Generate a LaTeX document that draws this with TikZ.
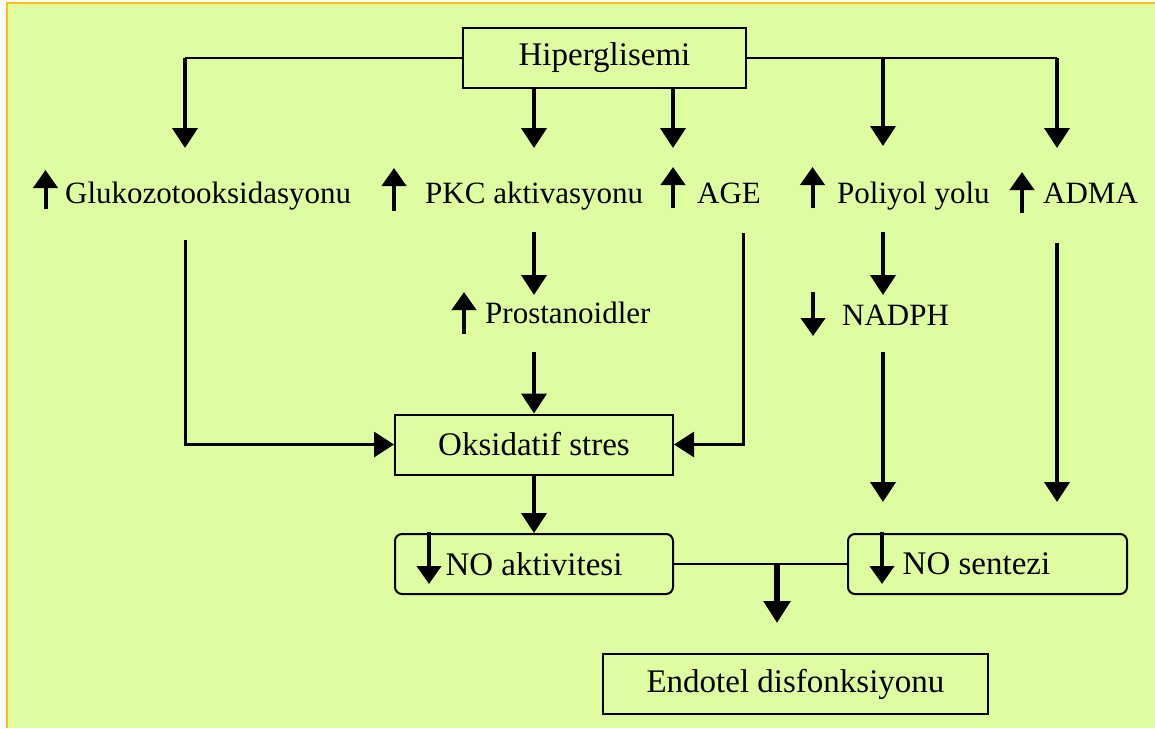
\documentclass[tikz,border=0pt]{standalone}
\usepackage{fontspec}
\setmainfont{Liberation Serif}
\usetikzlibrary{arrows.meta}
\definecolor{bggreen}{RGB}{222,253,161}
\definecolor{frameorange}{RGB}{255,190,20}
\begin{document}
\begin{tikzpicture}[x=1pt,y=-1pt,
  txt/.style={font=\fontsize{31}{36}\selectfont, inner sep=0pt},
  boxnode/.style={draw, line width=2pt, font=\fontsize{33}{38}\selectfont,
    minimum width=#1, minimum height=60pt, inner sep=0pt},
  rboxnode/.style={boxnode=#1, rounded corners=7pt},
  flow/.style={line width=4pt, -{Triangle[width=25pt,length=20pt]}},
  sidearrow/.style={line width=3pt, -{Triangle[width=25pt,length=20pt]}},
  bigflow/.style={line width=6pt, -{Triangle[width=26pt,length=22pt]}},
  sym/.style={line width=4pt, -{Triangle[width=24pt,length=18pt]}},
  thinln/.style={line width=2pt},
]
\useasboundingbox (0,0) rectangle (1155,728);
% background and frame
\fill[white] (0,0) rectangle (1155,728);
\fill[bggreen] (7,3) rectangle (1155,728);
\draw[frameorange, line width=2.5pt] (7,728) -- (7,3) -- (1155,3);

% boxes
\node[boxnode=283pt] (hip) at (604.5,58) {Hiperglisemi};
\node[boxnode=278pt] (oks) at (534,444.5) {Oksidatif stres};
\node[rboxnode=278pt] (noakt) at (534,564) {NO aktivitesi};
\node[rboxnode=279pt] (nosen) at (987.5,564) {\hspace*{-22pt}NO sentezi};
\node[boxnode=385pt] (endo) at (795.5,684) {Endotel disfonksiyonu};

% labels
\node[txt, anchor=base west] (glu) at (65,203) {Glukozotooksidasyonu};
\node[txt, anchor=base west] (pkc) at (425,203) {PKC aktivasyonu};
\node[txt, anchor=base west] (age) at (697,203) {AGE};
\node[txt, anchor=base west] (pol) at (837,203) {Poliyol yolu};
\node[txt, anchor=base west] (adma) at (1043,203) {ADMA};
\node[txt, anchor=base west] (pros) at (485,323) {Prostanoidler};
\node[txt, anchor=base west] (nadph) at (842,325) {NADPH};

% symbol arrows (increase / decrease)
\draw[sym] (45.5,209) -- (45.5,170);
\draw[sym] (394,211) -- (394,168);
\draw[sym] (673,208) -- (673,167);
\draw[sym] (812.5,208) -- (812.5,167);
\draw[sym] (1022,213) -- (1022,172);
\draw[sym] (464,334) -- (464,292);
\draw[sym] (813,292) -- (813,336);
\draw[sym] (429,532) -- (429,584);
\draw[sym] (882,532) -- (882,584);

% coordinates
\coordinate (gluIn) at (185,148);
\coordinate (pkcIn) at (534,148);
\coordinate (ageIn) at (673,148);
\coordinate (polIn) at (883,146);
\coordinate (admaIn) at (1057,148);
\coordinate (gluOut) at (185,240);
\coordinate (pkcOut) at (534,232);
\coordinate (prosIn) at (534,295);
\coordinate (prosOut) at (534,352);
\coordinate (ageOut) at (743,233);
\coordinate (polOut) at (883,232);
\coordinate (nadIn) at (883,295);
\coordinate (nadOut) at (883,352);
\coordinate (nadEnd) at (883,502);
\coordinate (admaOut) at (1057,243);
\coordinate (admaEnd) at (1057,502);
\coordinate (mid) at (777,564);
\coordinate (midEnd) at (777,623);

% top distribution
\draw[thinln] (hip.west) -- (hip.west -| gluIn);
\draw[thinln] (hip.east) -- (hip.east -| admaIn);
\draw[flow] (hip.west -| gluIn) -- (gluIn);
\draw[flow] (hip.south -| pkcIn) -- (pkcIn);
\draw[flow] (hip.south -| ageIn) -- (ageIn);
\draw[flow] (hip.east -| polIn) -- (polIn);
\draw[flow] (hip.east -| admaIn) -- (admaIn);

% middle
\draw[flow] (pkcOut) -- (prosIn);
\draw[flow] (prosOut) -- (oks.north);
\draw[sidearrow] (gluOut) |- (oks.west);
\draw[sidearrow] (ageOut) |- (oks.east);
\draw[flow] (oks.south) -- (noakt.north);
\draw[flow] (polOut) -- (nadIn);
\draw[flow] (nadOut) -- (nadEnd);
\draw[flow] (admaOut) -- (admaEnd);

% bottom
\draw[thinln] (noakt.east) -- (nosen.west);
\draw[bigflow] (mid) -- (midEnd);
\end{tikzpicture}
\end{document}
